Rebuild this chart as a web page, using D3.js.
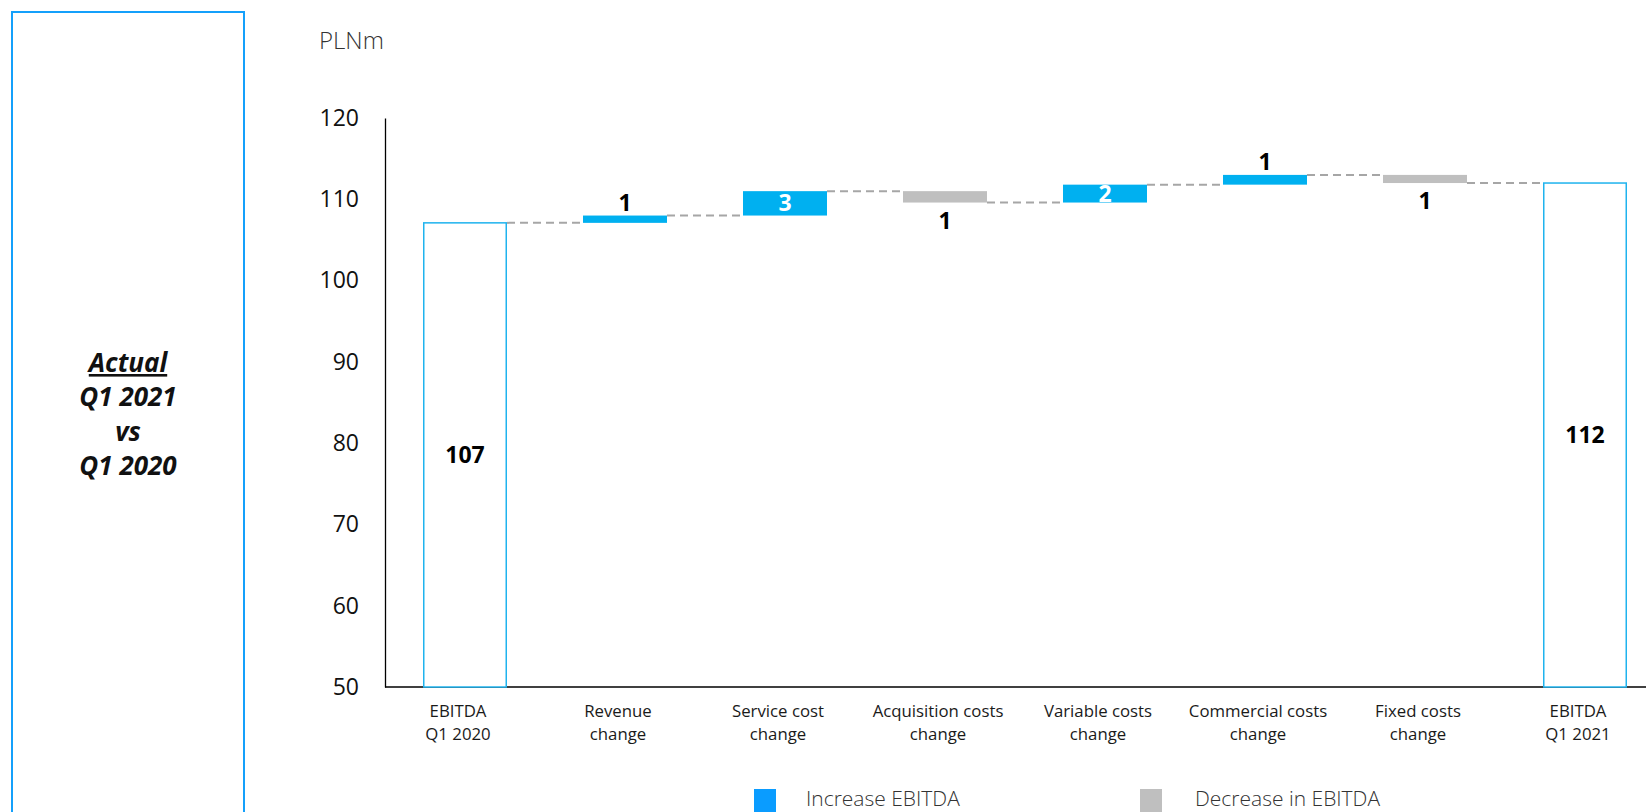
<!DOCTYPE html>
<html>
<head>
<meta charset="utf-8">
<script src="https://cdn.jsdelivr.net/npm/d3@7"></script>
<style>
  html, body { margin: 0; padding: 0; background: #ffffff; }
  svg { display: block; }
</style>
</head>
<body>
<svg id="chart" width="1646" height="812"></svg>
<script>
// EBITDA bridge, Q1 2020 -> Q1 2021 (PLNm)
const categories = [
  "EBITDA Q1 2020", "Revenue change", "Service cost change", "Acquisition costs change",
  "Variable costs change", "Commercial costs change", "Fixed costs change", "EBITDA Q1 2021"
];
const tickLines = [
  ["EBITDA", "Q1 2020"], ["Revenue", "change"], ["Service cost", "change"],
  ["Acquisition costs", "change"], ["Variable costs", "change"],
  ["Commercial costs", "change"], ["Fixed costs", "change"], ["EBITDA", "Q1 2021"]
];
const startValue = 107.1;
const changes = [0.9, 3.0, -1.4, 2.2, 1.2, -1.0];
const endValue = 112.0;
const yTicks = [50, 60, 70, 80, 90, 100, 110, 120];
const legendLabels = ["Increase EBITDA", "Decrease in EBITDA"];
const sideTitle = ["Actual", "Q1 2021", "vs", "Q1 2020"];

// Build waterfall steps
const steps = [];
let running = startValue;
steps.push({ cat: categories[0], kind: "total", lo: 50, hi: startValue, value: startValue, level: startValue });
changes.forEach((c, i) => {
  const from = running;
  running = running + c;
  steps.push({ cat: categories[i + 1], kind: c >= 0 ? "up" : "down",
    lo: Math.min(from, running), hi: Math.max(from, running), value: c, level: running });
});
steps.push({ cat: categories[7], kind: "total", lo: 50, hi: endValue, value: endValue, level: endValue });

const svg = d3.select("#chart");
const fmt = d3.format(".0f");

const x = d3.scaleBand().domain(categories).range([385, 1665])
  .paddingInner(0.475).paddingOuter(0.2375);
const y = d3.scaleLinear().domain([50, 120]).range([687, 118]);

const BLUE = "#00b0f0", GREY = "#bfbfbf", OUTLINE = "#1fb3ee";

// Side panel
svg.append("rect").attr("x", 12).attr("y", 12).attr("width", 232).attr("height", 840)
  .attr("fill", "none").attr("stroke", "#14a0fb").attr("stroke-width", 2);
const side = svg.append("text").attr("text-anchor", "middle")
  .attr("font-family", "'Open Sans', sans-serif").attr("font-size", 26)
  .attr("font-weight", 700).attr("font-style", "italic").attr("fill", "#111");
sideTitle.forEach((t, i) => {
  side.append("tspan").attr("x", 128).attr("y", 372 + i * 34.3)
    .attr("text-decoration", i === 0 ? "underline" : null).text(t);
});

// Unit label
svg.append("text").attr("x", 319).attr("y", 49)
  .attr("font-family", "'Open Sans', sans-serif").attr("font-size", 24).attr("font-weight", 300)
  .attr("fill", "#333").text("PLNm");

// Y axis
const yAxis = svg.append("g").attr("transform", "translate(385,0)")
  .call(d3.axisLeft(y).tickValues(yTicks).tickSize(0).tickPadding(26).tickFormat(d3.format("d")));
yAxis.select(".domain").attr("stroke", "#000").attr("stroke-width", 1.3);
yAxis.selectAll("text").attr("font-family", "'Open Sans', sans-serif").attr("font-size", 23)
  .attr("fill", "#111");

// X axis
const xAxis = svg.append("g").attr("transform", "translate(0,687)")
  .call(d3.axisBottom(x).tickSize(0).tickFormat(""));
xAxis.select(".domain").attr("stroke", "#000").attr("stroke-width", 1.3)
  .attr("d", "M385,0H1646");
xAxis.selectAll(".tick").each(function (d, i) {
  const t = d3.select(this).select("text")
    .attr("font-family", "'Open Sans', sans-serif").attr("font-size", 16.8)
    .attr("fill", "#1a1a1a").attr("dy", null).attr("y", 0).attr("x", -7);
  tickLines[i].forEach((line, j) => {
    t.append("tspan").attr("x", -7).attr("y", 30 + j * 23).text(line);
  });
});

// Connectors
const conn = svg.append("g");
steps.slice(0, -1).forEach((s, i) => {
  conn.append("line")
    .attr("x1", x(s.cat) + x.bandwidth()).attr("x2", x(steps[i + 1].cat))
    .attr("y1", y(s.level)).attr("y2", y(s.level))
    .attr("stroke", "#a6a6a6").attr("stroke-width", 2).attr("stroke-dasharray", "8,5");
});

// Bars
svg.append("g").selectAll("rect").data(steps).join("rect")
  .attr("x", d => x(d.cat) + (d.kind === "total" ? 0.75 : 0))
  .attr("width", d => x.bandwidth() - (d.kind === "total" ? 1.5 : 0))
  .attr("y", d => y(d.hi))
  .attr("height", d => y(d.lo) - y(d.hi))
  .attr("fill", d => d.kind === "total" ? "#fff" : d.kind === "up" ? BLUE : GREY)
  .attr("stroke", d => d.kind === "total" ? OUTLINE : "none")
  .attr("stroke-width", 1.5);

// Value labels
svg.append("g").selectAll("text").data(steps).join("text")
  .attr("text-anchor", "middle")
  .attr("font-family", "'Open Sans', sans-serif").attr("font-size", 23).attr("font-weight", 700)
  .attr("x", d => x(d.cat) + x.bandwidth() / 2)
  .attr("y", d => {
    if (d.kind === "total") return (y(d.hi) + y(d.lo)) / 2 + 8;
    if (Math.abs(d.value) >= 1.5) return (y(d.hi) + y(d.lo)) / 2 + 8;
    return d.kind === "up" ? y(d.hi) - 5 : y(d.lo) + 26;
  })
  .attr("fill", d => d.kind !== "total" && Math.abs(d.value) >= 1.5 ? "#fff" : "#000")
  .text(d => fmt(Math.abs(d.value)));

// Legend
const legend = svg.append("g");
[{ c: "#0a9cff", x: 754, tx: 806 }, { c: GREY, x: 1140, tx: 1195 }].forEach((l, i) => {
  legend.append("rect").attr("x", l.x).attr("y", 789).attr("width", 22).attr("height", 30).attr("fill", l.c);
  legend.append("text").attr("x", l.tx).attr("y", 806)
    .attr("font-family", "'Open Sans', sans-serif").attr("font-size", 21).attr("font-weight", 300)
    .attr("fill", "#333").text(legendLabels[i]);
});
</script>
</body>
</html>
